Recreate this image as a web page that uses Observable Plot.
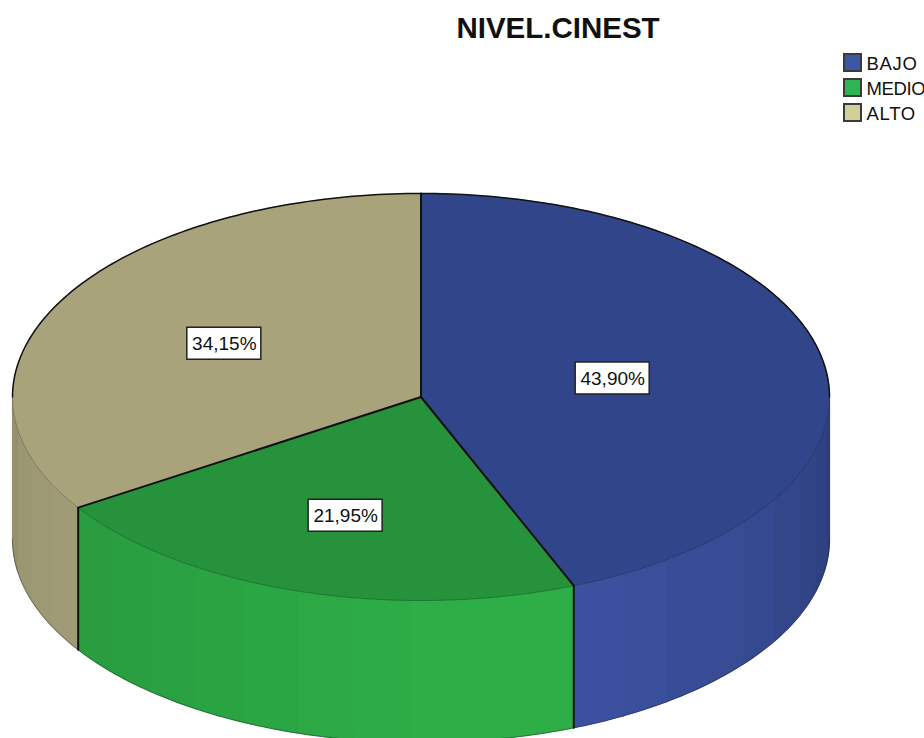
<!DOCTYPE html>
<html lang="es">
<head>
<meta charset="utf-8">
<title>NIVEL.CINEST</title>
<script src="https://cdn.jsdelivr.net/npm/d3@7"></script>
<script src="https://cdn.jsdelivr.net/npm/@observablehq/plot@0.6"></script>
<style>
  html, body { margin: 0; padding: 0; background: #fff; }
  #chart { position: relative; width: 924px; height: 738px; overflow: hidden; font-family: "Liberation Sans", Arial, sans-serif; color: #111; }
  #chart svg { display: block; }
  #title { position: absolute; left: 0; width: 1116px; top: 11px; margin: 0; text-align: center; font-size: 29.5px; font-weight: bold; line-height: 34px; }
  #legend { position: absolute; left: 843px; top: 52px; }
  .key { position: absolute; left: 0; height: 20px; white-space: nowrap; font-size: 18.5px; line-height: 22px; }
  .key i { position: absolute; left: 0; top: 1px; width: 15px; height: 15px; border: 2px solid #3a3a3a; }
  .key span { position: absolute; left: 23.5px; top: 1px; letter-spacing: 0.7px; }
  .key:nth-child(2) span { letter-spacing: -0.4px; }
</style>
</head>
<body>
<div id="chart">
  <h1 id="title">NIVEL.CINEST</h1>
  <div id="legend"></div>
</div>
<script>
// Nivel de cine: shares in percent, clockwise from twelve o'clock.
const categories = ["BAJO", "MEDIO", "ALTO"];
const percents = [43.90, 21.95, 34.15];
const percentLabels = ["43,90%", "21,95%", "34,15%"];

// Colours of the disc faces, the lit wall and the legend keys.
const topColors = ["#31468A", "#27923C", "#A8A37B"];
const wallColors = ["#3B519F", "#2DAE47", "#B3AE85"];
const keyColors = ["#3C56A8", "#2EB450", "#D3CF98"];

// Facet joints on the cylinder wall, degrees clockwise from twelve o'clock.
const wallJoints = [90, 97, 105, 112, 120, 128, 135.5, 143, 150.3, 158, 166, 173.7, 181.6, 189.6, 197.7, 205.7, 213.5, 221.5, 229.5, 237, 245, 253, 261, 270];

// Wall lighting by compass angle: brightest just right of the front.
const wallLight = d3.scaleLinear()
  .domain([90, 105, 130, 155, 180, 215, 237, 260, 270])
  .range([0.76, 0.82, 0.93, 1, 1, 0.93, 0.9, 0.86, 0.8]);

// Wall height in units of the disc's vertical radius.
const depth = 0.698;
// How far along each slice's mid-angle its percentage box sits.
const labelReach = [0.478, 0.612, 0.548];

const toRad = d => d * Math.PI / 180;
const rimX = a => Math.sin(toRad(a));
const rimY = a => -Math.cos(toRad(a));

// Degrees sampled along an arc, always including both ends.
function arcAngles(a0, a1) {
  const out = [];
  for (let a = a0; a < a1; a += 1) out.push(a);
  out.push(a1);
  return out;
}

// Slice boundaries from the cumulative percentages.
let running = 0;
const slices = percents.map((p, i) => {
  const start = running * 3.6;
  running += p;
  return {name: categories[i], start, end: running * 3.6, label: percentLabels[i], i};
});

// Top faces.
const topRows = slices.flatMap(s => [
  {id: s.name, x: 0, y: 0, color: topColors[s.i]},
  ...arcAngles(s.start, s.end).map(a => ({id: s.name, x: rimX(a), y: rimY(a), color: topColors[s.i]})),
  {id: s.name, x: 0, y: 0, color: topColors[s.i]}
]);

// Wall facets, visible only from 90 to 270 degrees.
const wallRows = [];
for (const s of slices) {
  const cuts = [s.start, ...wallJoints, s.end]
    .map(a => Math.min(Math.max(a, Math.max(s.start, 90)), Math.min(s.end, 270)));
  const stops = Array.from(new Set(cuts)).sort((a, b) => a - b);
  d3.pairs(stops).forEach(([a0, a1]) => {
    const base = d3.color(wallColors[s.i]);
    const k = wallLight((a0 + a1) / 2);
    const color = d3.rgb(base.r * k, base.g * k, base.b * k).formatHex();
    const id = `${s.name}-${a0}`;
    const arc = arcAngles(a0, a1);
    arc.forEach(a => wallRows.push({id, x: rimX(a), y: rimY(a), color}));
    arc.slice().reverse().forEach(a => wallRows.push({id, x: rimX(a), y: rimY(a) + depth, color}));
  });
}

// Outlines.
const arcRows = (a0, a1, drop = 0) => arcAngles(a0, a1).map(a => ({x: rimX(a), y: rimY(a) + drop}));
const spokeRows = slices.flatMap(s => [
  {id: s.name, x: 0, y: 0},
  {id: s.name, x: rimX(s.start), y: rimY(s.start)}
]);
const edgeRows = slices.filter(s => s.start > 90 && s.start < 270).flatMap(s => [
  {id: s.name, x: rimX(s.start), y: rimY(s.start)},
  {id: s.name, x: rimX(s.start), y: rimY(s.start) + depth}
]);

// Percentage boxes at each slice's mid-angle.
const labels = slices.map(s => {
  const mid = (s.start + s.end) / 2;
  return {label: s.label, x: rimX(mid) * labelReach[s.i], y: rimY(mid) * labelReach[s.i]};
});

const plot = Plot.plot({
  width: 924,
  height: 738,
  margin: 0,
  style: {background: "transparent", overflow: "hidden"},
  x: {domain: [-1, 1], range: [12, 829], axis: null},
  y: {domain: [-1, 1], range: [193, 600], axis: null},
  color: {type: "identity"},
  marks: [
    Plot.line(wallRows, {x: "x", y: "y", z: "id", fill: "color", stroke: "color", strokeWidth: 1.2, curve: "linear-closed"}),
    Plot.line(arcRows(90, 270, depth), {x: "x", y: "y", stroke: "#222", strokeOpacity: 0.4, strokeWidth: 1}),
    Plot.line(topRows, {x: "x", y: "y", z: "id", fill: "color", stroke: "color", strokeWidth: 0.5, curve: "linear-closed"}),
    Plot.line(arcRows(90, 270), {x: "x", y: "y", stroke: "#111", strokeOpacity: 0.25, strokeWidth: 1}),
    Plot.line(arcRows(-90, 90), {x: "x", y: "y", stroke: "#111", strokeWidth: 1.5}),
    Plot.line(spokeRows, {x: "x", y: "y", z: "id", stroke: "#111", strokeWidth: 2}),
    Plot.line(edgeRows, {x: "x", y: "y", z: "id", stroke: "#111", strokeWidth: 2}),
    Plot.rect(labels, {
      x1: "x", x2: "x", y1: "y", y2: "y",
      insetLeft: -37, insetRight: -37, insetTop: -16, insetBottom: -16,
      fill: "#fff", stroke: "#222", strokeWidth: 1.5
    }),
    Plot.text(labels, {
      x: "x", y: "y", text: "label",
      fontFamily: "'Liberation Sans', Arial, sans-serif", fontSize: 19, fill: "#111"
    })
  ]
});
const chart = document.getElementById("chart");
chart.insertBefore(plot, chart.firstChild);

// Legend keys stacked down the top right corner.
const legend = document.getElementById("legend");
const keyTops = [0, 25, 50];
categories.forEach((name, i) => {
  const row = document.createElement("div");
  row.className = "key";
  row.style.top = keyTops[i] + "px";
  const swatch = document.createElement("i");
  swatch.style.background = keyColors[i];
  const text = document.createElement("span");
  text.textContent = name;
  row.append(swatch, text);
  legend.append(row);
});
</script>
</body>
</html>
